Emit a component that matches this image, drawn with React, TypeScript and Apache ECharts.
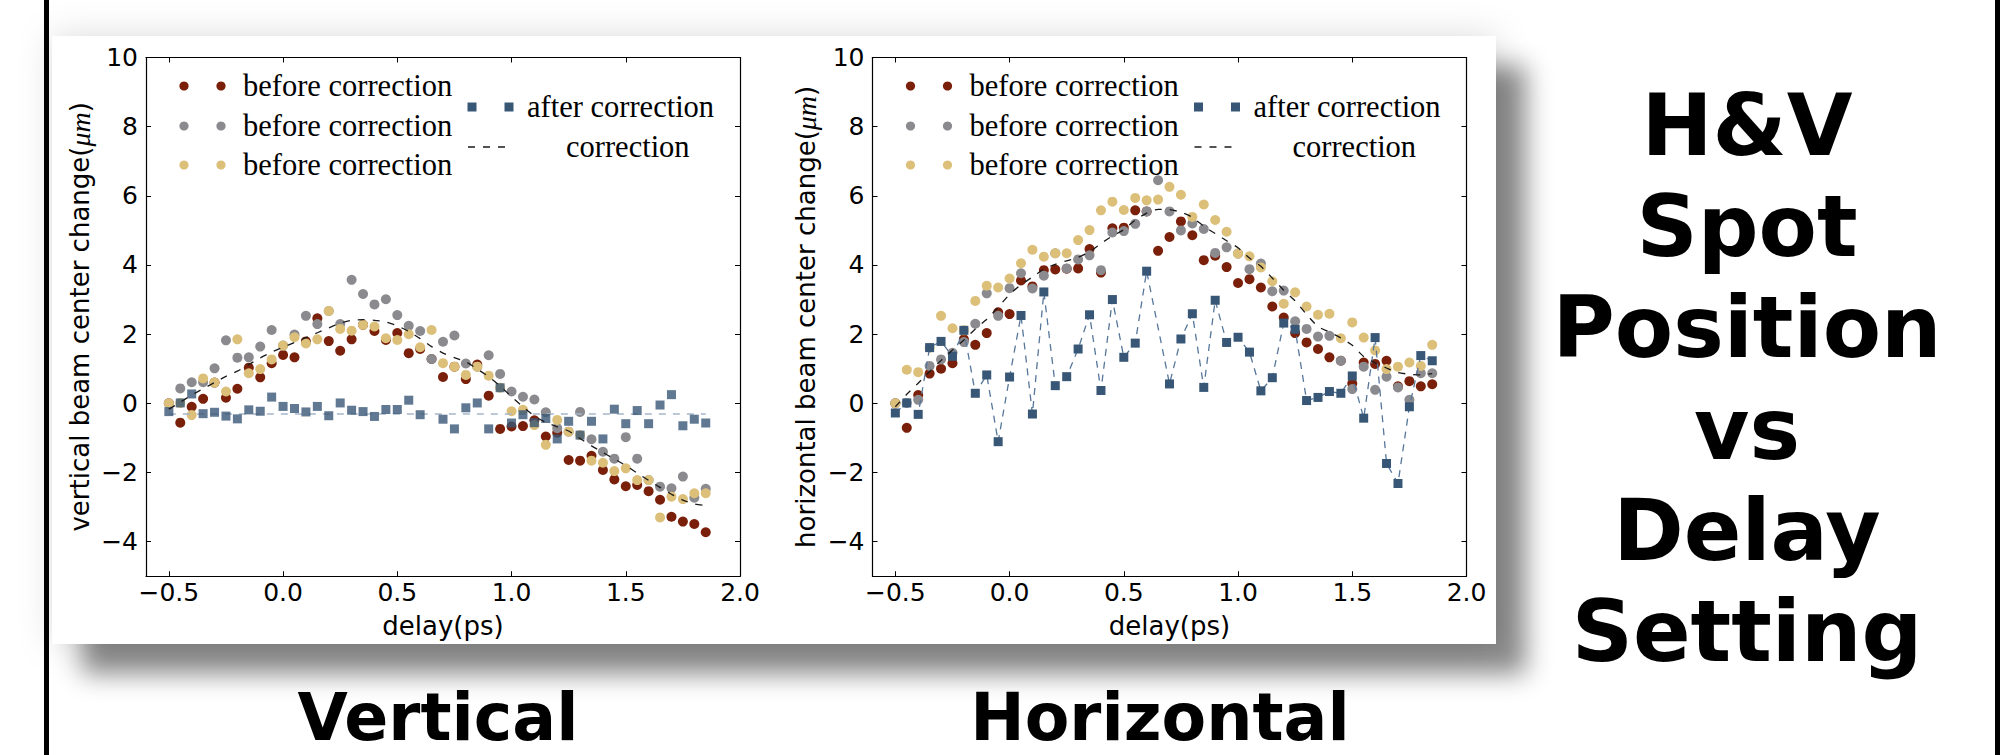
import React, { useEffect, useRef } from "react";
import * as echarts from "echarts";

// Delay settings (ps) shared by every series
const delays = [
  -0.5, -0.45, -0.4, -0.35, -0.3, -0.25, -0.2, -0.15, -0.1, -0.05,
  0.0, 0.05, 0.1, 0.15, 0.2, 0.25, 0.3, 0.35, 0.4, 0.45,
  0.5, 0.55, 0.6, 0.65, 0.7, 0.75, 0.8, 0.85, 0.9, 0.95,
  1.0, 1.05, 1.1, 1.15, 1.2, 1.25, 1.3, 1.35, 1.4, 1.45,
  1.5, 1.55, 1.6, 1.65, 1.7, 1.75, 1.8, 1.85,
];

const xTicks = [-0.5, 0, 0.5, 1, 1.5, 2];
const yTicks = [-4, -2, 0, 2, 4, 6, 8, 10];
const xMin = -0.6;
const xMax = 2.0;
const yMin = -5;
const yMax = 10;

// ---- Vertical beam centre change (um) ----
const vBeforeRed = [
  0.0, -0.56, -0.1, 0.13, 0.6, 0.16, 0.42, 1.03, 0.75, 1.16,
  1.4, 1.33, 1.79, 2.46, 1.8, 1.52, 1.85, 2.27, 2.09, 1.83,
  2.03, 1.45, 1.57, 1.28, 0.76, 1.06, 0.7, 1.12, 0.22, -0.74,
  -0.67, -0.66, -0.49, -0.96, -0.85, -1.64, -1.66, -1.52, -1.93, -2.2,
  -2.4, -2.36, -2.54, -2.79, -3.28, -3.42, -3.49, -3.73,
];
const vBeforeGray = [
  0.0, 0.43, 0.61, 0.61, 1.01, 1.82, 1.32, 1.33, 1.64, 2.12,
  1.67, 1.99, 2.53, 2.29, 2.67, 2.29, 3.57, 3.16, 2.86, 3.01,
  2.55, 2.24, 2.09, 1.28, 1.78, 1.96, 1.15, 1.06, 1.39, 0.85,
  0.34, 0.19, 0.11, -0.26, -0.72, -0.82, -0.25, -1.04, -1.4, -1.6,
  -0.98, -1.6, -2.22, -2.41, -2.46, -2.12, -2.73, -2.47,
];
const vBeforeGold = [
  0.0, 0.01, -0.34, 0.72, 0.6, 0.34, 1.85, 0.87, 0.99, 1.27,
  1.67, 1.91, 1.73, 1.85, 2.67, 2.15, 2.1, 2.27, 2.22, 1.88,
  1.83, 2.0, 1.62, 2.12, 1.16, 1.06, 0.82, 1.06, 0.8, 0.45,
  -0.23, -0.19, -0.63, -1.2, -0.48, -0.82, -0.92, -1.66, -1.72, -1.96,
  -1.88, -2.22, -2.22, -3.3, -2.7, -2.77, -2.6, -2.6,
];
const vAfter = [
  -0.24, 0.01, 0.27, -0.3, -0.26, -0.37, -0.45, -0.19, -0.23, 0.18,
  -0.09, -0.15, -0.25, -0.09, -0.36, 0.01, -0.2, -0.24, -0.38, -0.18,
  -0.18, 0.09, -0.33, null, -0.46, -0.74, -0.13, 0.01, -0.74, 0.45,
  -0.57, -0.33, -0.56, -0.44, -1.03, -0.52, -0.92, -0.52, -1.03, -0.17,
  -0.59, -0.21, -0.59, -0.05, 0.25, -0.65, -0.46, -0.57,
];
const vAfterLevel = -0.31;
const vCorrection = [
  -0.17, 0.03, 0.24, 0.42, 0.6, 0.78, 0.93, 1.12, 1.31, 1.48,
  1.62, 1.76, 1.9, 2.04, 2.18, 2.32, 2.4, 2.42, 2.4, 2.35,
  2.24, 2.08, 1.87, 1.64, 1.45, 1.32, 1.2, 0.99, 0.77, 0.5,
  0.19, -0.1, -0.37, -0.55, -0.68, -0.8, -1.02, -1.23, -1.42, -1.61,
  -1.8, -2.02, -2.23, -2.43, -2.63, -2.8, -2.91, -2.96,
];

// ---- Horizontal beam centre change (um) ----
const hBeforeRed = [
  0.0, -0.71, 0.24, 0.86, 1.0, 1.16, 1.85, 1.69, 2.03, 2.63,
  2.58, 3.55, 3.38, 3.85, 3.87, 3.89, 3.9, 4.46, 3.78, 5.06,
  5.08, 5.58, 5.55, 4.41, 4.81, 5.26, 4.86, 4.14, 4.27, 3.94,
  3.48, 3.59, 3.35, 2.8, 2.48, 2.03, 1.76, 1.57, 1.33, 1.23,
  0.57, 1.18, 1.14, 1.23, 0.49, 0.64, 0.49, 0.55,
];
const hBeforeGray = [
  0.0, 0.01, 0.1, 1.08, 1.27, 1.46, 1.77, 2.3, 3.18, 2.53,
  3.33, 3.76, 3.32, 3.69, 4.34, 3.9, 4.16, 4.28, 3.85, 4.94,
  4.98, 5.19, 5.55, 6.45, 5.55, 5.0, 5.2, 5.04, 4.35, 4.51,
  4.33, 3.88, 4.04, 3.24, 3.26, 2.37, 2.15, 1.93, 1.95, 1.23,
  0.41, 1.06, 0.39, 0.77, 0.46, 0.1, 0.87, 0.87,
];
const hBeforeGold = [
  0.0, 0.97, 0.9, 1.61, 2.53, 2.17, 2.11, 2.96, 3.4, 3.35,
  3.61, 4.05, 4.44, 4.24, 4.34, 4.34, 4.72, 5.01, 5.58, 5.83,
  5.59, 5.94, 5.87, 5.89, 6.26, 6.03, 5.39, 5.75, 5.3, 4.96,
  4.33, 4.25, 3.93, 3.53, 2.88, 3.21, 2.8, 2.56, 2.59, 1.88,
  2.34, 1.9, 1.53, 0.99, 1.06, 1.18, 1.08, 1.69,
];
const hAfter = [
  -0.28, 0.01, -0.32, 1.61, 1.79, 1.36, 2.11, 0.29, 0.82, -1.11,
  0.76, 2.54, -0.31, 3.22, 0.51, 0.77, 1.57, 2.56, 0.37, 3.0,
  1.33, 1.74, 3.82, null, 0.56, 1.86, 2.59, 0.46, 2.98, 1.76,
  1.91, 1.48, 0.36, 0.74, 2.32, 2.14, 0.08, 0.17, 0.34, 0.29,
  0.79, -0.43, 1.9, -1.74, -2.32, -0.1, 1.38, 1.23,
];
const hCorrection = [
  -0.1, 0.26, 0.58, 0.92, 1.24, 1.54, 1.83, 2.15, 2.43, 2.78,
  3.15, 3.43, 3.65, 3.88, 4.02, 4.12, 4.22, 4.38, 4.62, 4.84,
  5.02, 5.3, 5.5, 5.61, 5.6, 5.53, 5.38, 5.12, 4.91, 4.7,
  4.5, 4.2, 3.96, 3.62, 3.27, 2.96, 2.57, 2.22, 2.06, 1.89,
  1.68, 1.35, 1.17, 1.02, 0.89, 0.84, 0.82, 0.86,
];

const legendBefore = "before correction";
const legendAfter = "after correction";
const legendCorrection = "correction";
const xAxisTitle = "delay(ps)";
const sideTitle = ["H&V", "Spot", "Position", "vs", "Delay", "Setting"];

const C = {
  red: "#7a200a",
  gray: "#8b8b8f",
  gold: "#dcc07a",
  blue: "#385675",
  blueLine: "#56769a",
  blueLevel: "#a7b7ca",
  fit: "#1a1a1a",
};

const GRID_TOP = 57.5;
const GRID_H = 518.7;
const GRID_W = 594;
const LEGEND_FONT = '30.5px "Liberation Serif"';

const panels = [
  {
    left: 146,
    yTitle: "vertical beam center change(",
    title: "Vertical",
    titleX: 438,
    red: vBeforeRed,
    gray: vBeforeGray,
    gold: vBeforeGold,
    after: vAfter,
    correction: vCorrection,
    joinAfter: false,
    yTitleX: 80,
  },
  {
    left: 872.5,
    yTitle: "horizontal beam center change(",
    title: "Horizontal",
    titleX: 1160,
    red: hBeforeRed,
    gray: hBeforeGray,
    gold: hBeforeGold,
    after: hAfter,
    correction: hCorrection,
    joinAfter: true,
    yTitleX: 806,
  },
];

const pairs = (ys: (number | null)[]) =>
  delays.map((x, i) => [x, ys[i]]).filter((p) => p[1] !== null);

const minus = (s: string) => s.replace("-", "\u2212");
const fmtX = (v: number) => minus(v.toFixed(1));
const fmtY = (v: number) => minus(String(Math.round(v)));

const tickStyle = { color: "#000", width: 1 };
const labelFont = { color: "#000", fontSize: 25, fontFamily: "DejaVu Sans" };

function legendText(text: string, x: number, y: number) {
  return {
    type: "text",
    z: 30,
    style: {
      text,
      x,
      y,
      fill: "#000",
      font: LEGEND_FONT,
      align: "left",
      textAlign: "left",
      verticalAlign: "middle",
      textVerticalAlign: "middle",
    },
  };
}

function buildOption() {
  const grid: any[] = [];
  const xAxis: any[] = [];
  const yAxis: any[] = [];
  const series: any[] = [];
  const graphic: any[] = [];

  // Soft halo plus a heavier drop shadow behind the white figure panel
  graphic.push({
    type: "rect",
    z: -21,
    shape: { x: 52, y: 36, width: 1444, height: 608 },
    style: {
      fill: "#ffffff",
      shadowBlur: 34,
      shadowOffsetX: 0,
      shadowOffsetY: 0,
      shadowColor: "rgba(0,0,0,0.14)",
    },
  });
  graphic.push({
    type: "rect",
    z: -20,
    shape: { x: 52, y: 36, width: 1444, height: 608 },
    style: {
      fill: "#ffffff",
      shadowBlur: 26,
      shadowOffsetX: 30,
      shadowOffsetY: 30,
      shadowColor: "rgba(0,0,0,0.46)",
    },
  });
  graphic.push({ type: "rect", z: 20, shape: { x: 44, y: 0, width: 5, height: 755 }, style: { fill: "#000" } });
  graphic.push({ type: "rect", z: 20, shape: { x: 1995, y: 0, width: 5, height: 755 }, style: { fill: "#000" } });

  panels.forEach((p, g) => {
    grid.push({ left: p.left, top: GRID_TOP, width: GRID_W, height: GRID_H, containLabel: false });

    ["bottom", "top"].forEach((pos) => {
      const bottom = pos === "bottom";
      xAxis.push({
        type: "value",
        gridIndex: g,
        position: pos,
        min: xMin,
        max: xMax,
        name: bottom ? xAxisTitle : "",
        nameLocation: "middle",
        nameGap: 37,
        nameTextStyle: { color: "#000", fontSize: 26, fontFamily: "DejaVu Sans" },
        axisLine: { show: true, onZero: false, lineStyle: { color: "#000", width: 1.2 } },
        axisTick: { show: true, inside: true, length: 5, lineStyle: tickStyle, customValues: xTicks },
        axisLabel: { show: bottom, customValues: xTicks, formatter: fmtX, margin: 4, ...labelFont },
        splitLine: { show: false },
      });
    });
    ["left", "right"].forEach((pos) => {
      const left = pos === "left";
      yAxis.push({
        type: "value",
        gridIndex: g,
        position: pos,
        min: yMin,
        max: yMax,
        axisLine: { show: true, onZero: false, lineStyle: { color: "#000", width: 1.2 } },
        axisTick: { show: true, inside: true, length: 5, lineStyle: tickStyle, customValues: yTicks },
        axisLabel: { show: left, customValues: yTicks, formatter: fmtY, margin: 8, ...labelFont },
        splitLine: { show: false },
      });
    });

    const xi = 2 * g;
    const yi = 2 * g;
    const dot = (name: string, data: any, color: string, z: number) => ({
      type: "scatter",
      name,
      xAxisIndex: xi,
      yAxisIndex: yi,
      symbol: "circle",
      symbolSize: 10,
      itemStyle: { color, opacity: 1 },
      z,
      silent: true,
      data,
    });

    series.push(dot(legendBefore, pairs(p.red), C.red, 3));
    series.push(dot(legendBefore, pairs(p.gray), C.gray, 4));
    series.push(dot(legendBefore, pairs(p.gold), C.gold, 5));

    if (p.joinAfter) {
      series.push({
        type: "line",
        name: legendAfter,
        xAxisIndex: xi,
        yAxisIndex: yi,
        symbol: "rect",
        symbolSize: 9,
        showSymbol: true,
        connectNulls: true,
        itemStyle: { color: C.blue },
        lineStyle: { color: C.blueLine, width: 1.3, type: [7, 6] },
        z: 6,
        silent: true,
        data: pairs(p.after),
      });
    } else {
      series.push({
        type: "line",
        name: legendAfter + " level",
        xAxisIndex: xi,
        yAxisIndex: yi,
        symbol: "none",
        lineStyle: { color: C.blueLevel, width: 1.3, type: [7, 7] },
        z: 5.5,
        silent: true,
        data: [
          [delays[0], vAfterLevel],
          [delays[delays.length - 1], vAfterLevel],
        ],
      });
      series.push({
        type: "scatter",
        name: legendAfter,
        xAxisIndex: xi,
        yAxisIndex: yi,
        symbol: "rect",
        symbolSize: 9,
        itemStyle: { color: C.blue },
        z: 6,
        silent: true,
        data: pairs(p.after),
      });
    }

    series.push({
      type: "line",
      name: legendCorrection,
      xAxisIndex: xi,
      yAxisIndex: yi,
      symbol: "none",
      smooth: 0.2,
      lineStyle: { color: C.fit, width: 1.3, type: [7, 8] },
      z: 7,
      silent: true,
      data: pairs(p.correction),
    });

    // Legend block inside each plot
    const L = p.left;
    const rows = [
      { y: 86, color: C.red },
      { y: 126, color: C.gray },
      { y: 165, color: C.gold },
    ];
    rows.forEach((r) => {
      [38, 75].forEach((dx) => {
        graphic.push({ type: "circle", z: 30, shape: { cx: L + dx, cy: r.y, r: 4.6 }, style: { fill: r.color } });
      });
      graphic.push(legendText(legendBefore, L + 97, r.y));
    });
    [326, 363].forEach((dx) => {
      graphic.push({
        type: "rect",
        z: 30,
        shape: { x: L + dx - 4.5, y: 107 - 4.5, width: 9, height: 9 },
        style: { fill: C.blue },
      });
    });
    graphic.push(legendText(legendAfter, L + 381, 107));
    graphic.push({
      type: "line",
      z: 30,
      shape: { x1: L + 322, y1: 147, x2: L + 365, y2: 147 },
      style: { stroke: C.fit, lineWidth: 1.3, lineDash: [7, 8] },
    });
    graphic.push(legendText(legendCorrection, L + 420, 147));

    // Rotated y-axis title with italic unit
    graphic.push({
      type: "text",
      z: 30,
      x: p.yTitleX,
      y: GRID_TOP + GRID_H / 2,
      rotation: Math.PI / 2,
      style: {
        text: p.yTitle + "{m|\u03bcm})",
        x: 0,
        y: 0,
        fill: "#000",
        fontSize: 26,
        fontFamily: "DejaVu Sans",
        align: "center",
        textAlign: "center",
        verticalAlign: "middle",
        textVerticalAlign: "middle",
        rich: {
          m: { fontSize: 28, fontFamily: "Liberation Serif", fontStyle: "italic", fill: "#000" },
        },
      },
    });

    // Caption under each plot
    graphic.push({
      type: "text",
      z: 30,
      style: {
        text: p.title,
        x: p.titleX,
        y: 740 - 0.346 * 65,
        fill: "#000",
        font: 'bold 65px "DejaVu Sans"',
        align: "center",
        textAlign: "center",
        verticalAlign: "middle",
        textVerticalAlign: "middle",
      },
    });
  });

  // Side heading, one word per line
  sideTitle.forEach((word, k) => {
    const baseline = 155 + 101.2 * k;
    graphic.push({
      type: "text",
      z: 30,
      style: {
        text: word,
        x: 1747,
        y: baseline - 0.346 * 85,
        fill: "#000",
        font: 'bold 85px "DejaVu Sans"',
        align: "center",
        textAlign: "center",
        verticalAlign: "middle",
        textVerticalAlign: "middle",
      },
    });
  });

  return {
    animation: false,
    backgroundColor: "#ffffff",
    grid,
    xAxis,
    yAxis,
    series,
    graphic: { elements: graphic },
  };
}

export default function App() {
  const ref = useRef<HTMLDivElement>(null);
  useEffect(() => {
    if (!ref.current) return;
    const chart = echarts.init(ref.current, null, { renderer: "svg" });
    chart.setOption(buildOption() as any);
    return () => chart.dispose();
  }, []);
  return (
    <div
      ref={ref}
      style={{ position: "absolute", left: 0, top: 0, width: 2014, height: 755, background: "#fff" }}
    />
  );
}
